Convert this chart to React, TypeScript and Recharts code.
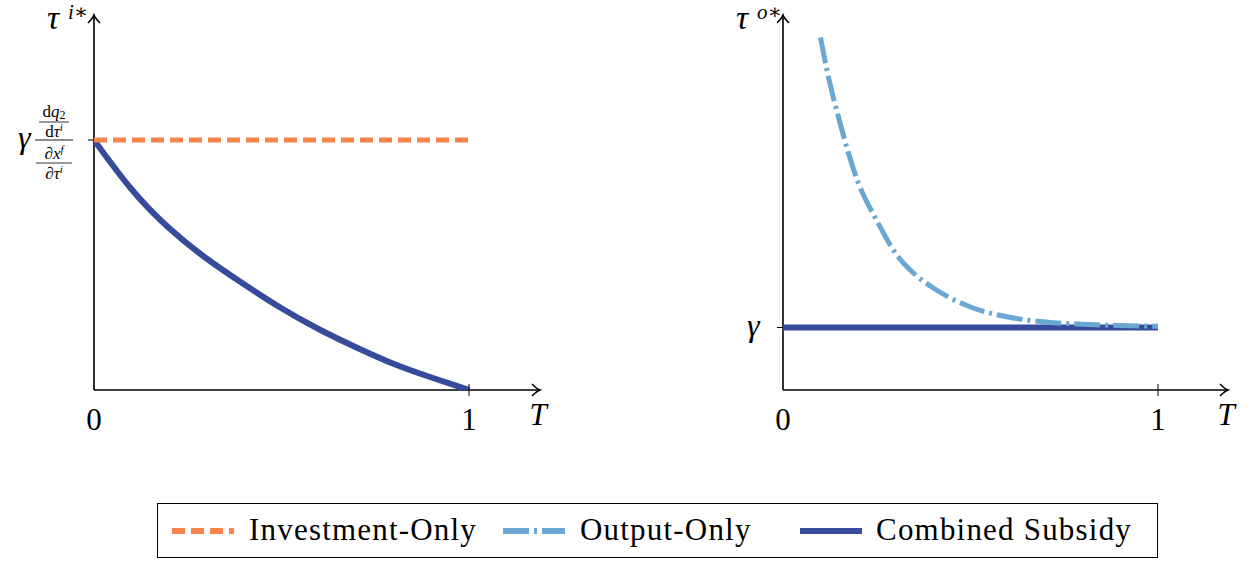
import React from 'react';
import { LineChart, Line, XAxis, YAxis, ReferenceLine } from 'recharts';

// left panel: investment tax credit vs. horizon T
const tGrid = [0, 0.1, 0.2, 0.3, 0.4, 0.5, 0.6, 0.7, 0.8, 0.9, 1];
const investmentOnly = [1, 1, 1, 1, 1, 1, 1, 1, 1, 1, 1];
const combinedLeft = [1, 0.803, 0.648, 0.526, 0.423, 0.327, 0.243, 0.17, 0.104, 0.05, 0];

// right panel: output subsidy vs. horizon T
const GAMMA = 0.25;
const outputT = [0.1, 0.12, 0.15, 0.2, 0.25, 0.3, 0.35, 0.4, 0.5, 0.6, 0.7, 0.8, 0.9, 1];
const outputOnly = [1.41, 1.26, 1.08, 0.832, 0.678, 0.547, 0.465, 0.409, 0.332, 0.292, 0.272, 0.263, 0.258, 0.255];
const combinedRightT = [0, 1];
const combinedRight = [GAMMA, GAMMA];

const X_MAX_LEFT = 1.1893;
const X_MAX_RIGHT = 1.1867;
const Y_MAX = 1.5;

const ORANGE = '#f8834b';
const LIGHT_BLUE = '#6ba7d3';
const DARK_BLUE = '#364b9c';
const SERIF = '"Liberation Serif", "DejaVu Serif", serif';

const investmentData = tGrid.map((t, i) => ({ t, v: investmentOnly[i] }));
const combinedLeftData = tGrid.map((t, i) => ({ t, v: combinedLeft[i] }));
const outputData = outputT.map((t, i) => ({ t, v: outputOnly[i] }));
const combinedRightData = combinedRightT.map((t, i) => ({ t, v: combinedRight[i] }));

const XArrow = (props: any) => {
  const { x1, y1, x2 } = props;
  return (
    <g>
      <line x1={x1} y1={y1} x2={x2} y2={y1} stroke="#000" strokeWidth={1.6} />
      <path d={`M${x2 - 8} ${y1 - 6} Q${x2 - 3} ${y1 - 1} ${x2} ${y1} Q${x2 - 3} ${y1 + 1} ${x2 - 8} ${y1 + 6}`} fill="none" stroke="#000" strokeWidth={1.6} />
      <text x={x2 - 2} y={y1 + 35} fontFamily={SERIF} fontStyle="italic" fontSize={31} textAnchor="middle">T</text>
    </g>
  );
};

const makeYArrow = (sup: string) => (props: any) => {
  const { x1, y1, y2 } = props;
  const top = Math.min(y1, y2);
  const bottom = Math.max(y1, y2);
  return (
    <g>
      <line x1={x1} y1={bottom} x2={x1} y2={top} stroke="#000" strokeWidth={1.6} />
      <path d={`M${x1 - 6} ${top + 8} Q${x1 - 1} ${top + 3} ${x1} ${top} Q${x1 + 1} ${top + 3} ${x1 + 6} ${top + 8}`} fill="none" stroke="#000" strokeWidth={1.6} />
      <text x={x1 - 47} y={top + 14} fontFamily={SERIF} fontStyle="italic" fontSize={34}>τ</text>
      <text x={x1 - 26} y={top + 4} fontFamily={SERIF} fontStyle="italic" fontSize={21}>{sup}</text>
    </g>
  );
};

const XTick = (props: any) => {
  const { x, y, payload } = props;
  return (
    <g>
      {payload.value !== 0 && <line x1={x} x2={x} y1={y - 6} y2={y + 6} stroke="#000" strokeWidth={1} />}
      <text x={x} y={y + 40} textAnchor="middle" fontFamily={SERIF} fontSize={31} fill="#000">{payload.value}</text>
    </g>
  );
};

const FractionTick = (props: any) => {
  const { x, y } = props;
  const cx = x - 40;
  return (
    <g fontFamily={SERIF} fill="#000">
      <line x1={x - 6} x2={x} y1={y} y2={y} stroke="#000" strokeWidth={1} />
      <text x={x - 76} y={y + 8} fontSize={32} fontStyle="italic">γ</text>
      <text x={cx} y={y - 23} fontSize={17} textAnchor="middle">d<tspan fontStyle="italic">q</tspan><tspan fontSize={12} dy={2}>2</tspan></text>
      <line x1={cx - 15} x2={cx + 15} y1={y - 18} y2={y - 18} stroke="#000" strokeWidth={0.8} />
      <text x={cx} y={y - 3} fontSize={17} textAnchor="middle">d<tspan fontStyle="italic">τ</tspan><tspan fontSize={11} fontStyle="italic" dy={-6}>i</tspan></text>
      <line x1={cx - 19} x2={cx + 19} y1={y} y2={y} stroke="#000" strokeWidth={0.9} />
      <text x={cx} y={y + 19} fontSize={17} textAnchor="middle">∂<tspan fontStyle="italic">x</tspan><tspan fontSize={11} fontStyle="italic" dy={-6}>f</tspan></text>
      <line x1={cx - 18} x2={cx + 18} y1={y + 23} y2={y + 23} stroke="#000" strokeWidth={0.8} />
      <text x={cx} y={y + 39} fontSize={17} textAnchor="middle">∂<tspan fontStyle="italic">τ</tspan><tspan fontSize={11} fontStyle="italic" dy={-6}>i</tspan></text>
    </g>
  );
};

const GammaTick = (props: any) => {
  const { x, y } = props;
  return (
    <g>
      <line x1={x - 6} x2={x} y1={y} y2={y} stroke="#000" strokeWidth={1} />
      <text x={x - 36} y={y + 8} fontFamily={SERIF} fontStyle="italic" fontSize={32} fill="#000">γ</text>
    </g>
  );
};

const LegendSample = ({ color, dash }: { color: string; dash?: string }) => (
  <svg width={62} height={10} style={{ position: 'absolute', top: 22 }}>
    <line x1={0} x2={62} y1={5} y2={5} stroke={color} strokeWidth={6} strokeDasharray={dash} />
  </svg>
);

const legendText: React.CSSProperties = { position: 'absolute', top: 8, lineHeight: '36px', letterSpacing: 1.2, whiteSpace: 'nowrap' };

export default function App() {
  return (
    <div style={{ position: 'absolute', left: 0, top: 0, width: 1250, height: 563, background: '#fff' }}>
      <div style={{ position: 'absolute', left: 0, top: 0 }}>
        <LineChart width={600} height={450} margin={{ top: 15, right: 60, bottom: 0, left: 0 }}>
          <XAxis type="number" dataKey="t" domain={[0, X_MAX_LEFT]} ticks={[0, 1]} axisLine={false} tickLine={false} tickSize={0} tickMargin={0} height={60} tick={<XTick />} allowDataOverflow />
          <YAxis type="number" dataKey="v" domain={[0, Y_MAX]} ticks={[1]} axisLine={false} tickLine={false} tickSize={0} tickMargin={0} width={94} tick={<FractionTick />} allowDataOverflow />
          <ReferenceLine segment={[{ x: 0, y: 0 }, { x: X_MAX_LEFT, y: 0 }]} shape={XArrow} ifOverflow="visible" />
          <ReferenceLine segment={[{ x: 0, y: 0 }, { x: 0, y: Y_MAX }]} shape={makeYArrow('i∗')} ifOverflow="visible" />
          <Line data={combinedLeftData} dataKey="v" type="natural" stroke={DARK_BLUE} strokeWidth={6} dot={false} isAnimationActive={false} />
          <Line data={investmentData} dataKey="v" type="linear" stroke={ORANGE} strokeWidth={5} strokeDasharray="13 6" dot={false} isAnimationActive={false} />
        </LineChart>
      </div>
      <div style={{ position: 'absolute', left: 689, top: 0 }}>
        <LineChart width={561} height={450} margin={{ top: 15, right: 22, bottom: 0, left: 0 }}>
          <XAxis type="number" dataKey="t" domain={[0, X_MAX_RIGHT]} ticks={[0, 1]} axisLine={false} tickLine={false} tickSize={0} tickMargin={0} height={60} tick={<XTick />} allowDataOverflow />
          <YAxis type="number" dataKey="v" domain={[0, Y_MAX]} ticks={[GAMMA]} axisLine={false} tickLine={false} tickSize={0} tickMargin={0} width={94} tick={<GammaTick />} allowDataOverflow />
          <ReferenceLine segment={[{ x: 0, y: 0 }, { x: X_MAX_RIGHT, y: 0 }]} shape={XArrow} ifOverflow="visible" />
          <ReferenceLine segment={[{ x: 0, y: 0 }, { x: 0, y: Y_MAX }]} shape={makeYArrow('o∗')} ifOverflow="visible" />
          <Line data={combinedRightData} dataKey="v" type="linear" stroke={DARK_BLUE} strokeWidth={6} dot={false} isAnimationActive={false} />
          <Line data={outputData} dataKey="v" type="monotone" stroke={LIGHT_BLUE} strokeWidth={5} strokeDasharray="26 5 3 5" dot={false} isAnimationActive={false} />
        </LineChart>
      </div>
      <div style={{ position: 'absolute', left: 157, top: 503, width: 1001, height: 55, border: '1px solid #000', boxSizing: 'border-box', fontFamily: SERIF, fontSize: 31, color: '#000' }}>
        <div style={{ position: 'absolute', left: 14 }}><LegendSample color={ORANGE} dash="13 6" /></div>
        <div style={{ ...legendText, left: 91 }}>Investment-Only</div>
        <div style={{ position: 'absolute', left: 345 }}><LegendSample color={LIGHT_BLUE} dash="26 5 3 5" /></div>
        <div style={{ ...legendText, left: 422 }}>Output-Only</div>
        <div style={{ position: 'absolute', left: 642 }}><LegendSample color={DARK_BLUE} /></div>
        <div style={{ ...legendText, left: 718 }}>Combined Subsidy</div>
      </div>
    </div>
  );
}
